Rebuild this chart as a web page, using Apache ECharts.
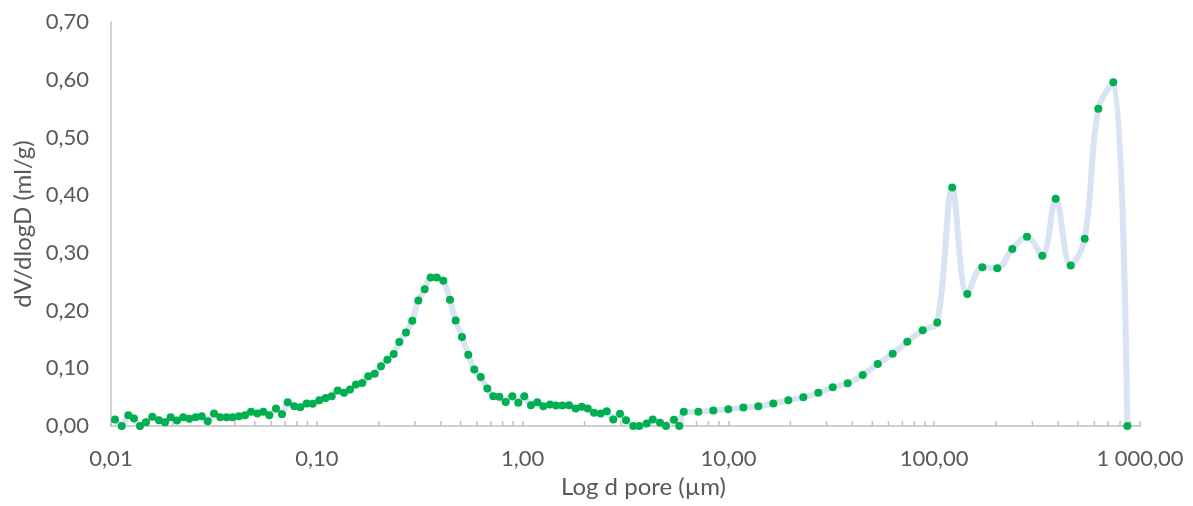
<!DOCTYPE html>
<html>
<head>
<meta charset="utf-8">
<script src="https://cdn.jsdelivr.net/npm/echarts@6/dist/echarts.min.js"></script>
<style>
html,body{margin:0;padding:0;background:#fff;}
#chart{width:1193px;height:506px;}
</style>
</head>
<body>
<div id="chart"></div>
<script>
// Pore diameter (µm)
var poreDiameter = [
  0.01046, 0.01127, 0.01214, 0.01293, 0.01383, 0.01480, 0.01588, 0.01711, 0.01830, 0.01950,
  0.02093, 0.02245, 0.02402, 0.02580, 0.02759, 0.02950, 0.03167, 0.03397, 0.03650, 0.03903,
  0.04188, 0.04478, 0.04789, 0.05139, 0.05495, 0.05877, 0.06334, 0.06774, 0.07221, 0.07774,
  0.08316, 0.08930, 0.09552, 0.1028, 0.1105, 0.1182, 0.1264, 0.1356, 0.1450, 0.1550,
  0.1664, 0.1779, 0.1911, 0.2051, 0.2202, 0.2364, 0.2518, 0.2713, 0.2911, 0.3113,
  0.3344, 0.3576, 0.3825, 0.4118, 0.4437, 0.4730, 0.5075, 0.5446, 0.5824, 0.6256,
  0.6738, 0.7206, 0.7705, 0.8278, 0.8911, 0.9530, 1.019, 1.098, 1.179, 1.261,
  1.359, 1.453, 1.559, 1.681, 1.811, 1.938, 2.072, 2.223, 2.396, 2.563,
  2.759, 2.974, 3.181, 3.451, 3.691, 4.009, 4.288, 4.652, 4.976, 5.441,
  5.773, 6.066, 7.141, 8.446, 9.99, 11.82, 13.98, 16.53, 19.55, 23.12,
  27.35, 32.12, 37.99, 44.95, 53.16, 62.84, 74.00, 87.95, 103.5, 122.4,
  144.8, 171.3, 202.6, 239.6, 282.4, 335.2, 389.4, 460.6, 538.6, 627.1,
  742.0, 867.6
];
// dV/dlogD (ml/g)
var dVdlogD = [
  0.0112, 0.0000, 0.0187, 0.0130, 0.0000, 0.0066, 0.0159, 0.0100, 0.0066, 0.0152,
  0.0095, 0.0152, 0.0124, 0.0152, 0.0169, 0.0083, 0.0216, 0.0152, 0.0152, 0.0152,
  0.0169, 0.0187, 0.0245, 0.0216, 0.0245, 0.0187, 0.0302, 0.0204, 0.0411, 0.0342,
  0.0325, 0.0389, 0.0384, 0.0446, 0.0487, 0.0515, 0.0614, 0.0574, 0.0631, 0.0717,
  0.0747, 0.0861, 0.0907, 0.1034, 0.1149, 0.1248, 0.1455, 0.1621, 0.1823, 0.2174,
  0.2371, 0.2572, 0.2572, 0.2515, 0.2186, 0.1829, 0.1542, 0.1236, 0.0977, 0.0850,
  0.0648, 0.0515, 0.0505, 0.0418, 0.0515, 0.0401, 0.0515, 0.0359, 0.0411, 0.0342,
  0.0372, 0.0354, 0.0354, 0.0359, 0.0302, 0.0332, 0.0302, 0.0228, 0.0216, 0.0256,
  0.0112, 0.0211, 0.0100, 0.0000, 0.0000, 0.0043, 0.0112, 0.0055, 0.0000, 0.0107,
  0.0000, 0.0247, 0.0245, 0.0268, 0.0290, 0.0320, 0.0342, 0.0389, 0.0446, 0.0498,
  0.0574, 0.0671, 0.0740, 0.0885, 0.1075, 0.1253, 0.1460, 0.1659, 0.1794, 0.4134,
  0.2285, 0.2751, 0.2734, 0.3068, 0.3280, 0.2952, 0.3937, 0.2779, 0.3246, 0.5499,
  0.5954, 0.0000
];
// Minor tick positions on the log axis
var minorTickValues = [];
[0.01, 0.1, 1, 10, 100].forEach(function (dec) {
  for (var k = 2; k <= 9; k++) minorTickValues.push(+(dec * k).toPrecision(3));
});

var textColor = '#595959';
var axisColor = '#BFBFBF';
var fontFamily = 'Lato, "Open Sans", sans-serif';

function fmtNum(v, dec) {
  var s = (Math.round(v * 100) / 100).toFixed(dec);
  var parts = s.split('.');
  var ip = parts[0].replace(/\B(?=(\d{3})+(?!\d))/g, ' ');
  return ip + ',' + parts[1];
}

var seriesData = poreDiameter.map(function (d, i) { return [d, dVdlogD[i]]; });

var chart = echarts.init(document.getElementById('chart'));
chart.setOption({
  animation: false,
  backgroundColor: '#ffffff',
  grid: { left: 111, right: 53, top: 22, bottom: 80, containLabel: false },
  xAxis: {
    type: 'log',
    logBase: 10,
    min: 0.01,
    max: 1000,
    splitNumber: 5,
    name: 'Log d pore (µm)',
    nameLocation: 'middle',
    nameGap: 49,
    nameTextStyle: { color: textColor, fontSize: 24, fontFamily: fontFamily, padding: [0, 0, 0, 36] },
    axisLine: { show: true, lineStyle: { color: axisColor, width: 1.5 } },
    axisTick: { show: true, inside: true, length: 5, lineStyle: { color: axisColor, width: 1.5 } },
    minorTick: { show: false },
    splitLine: { show: false },
    axisLabel: {
      color: textColor, fontSize: 22, fontFamily: fontFamily, margin: 22,
      formatter: function (v) { return fmtNum(v, 2); }
    }
  },
  yAxis: {
    type: 'value',
    min: 0,
    max: 0.7,
    interval: 0.1,
    name: 'dV/dlogD (ml/g)',
    nameLocation: 'middle',
    nameGap: 74,
    nameTextStyle: { color: textColor, fontSize: 24, fontFamily: fontFamily },
    axisLine: { show: true, lineStyle: { color: axisColor, width: 1.5 } },
    axisTick: { show: false },
    splitLine: { show: false },
    axisLabel: {
      color: textColor, fontSize: 22, fontFamily: fontFamily, margin: 22,
      formatter: function (v) { return fmtNum(v, 2); }
    }
  },
  series: [
    {
      type: 'custom',
      silent: true,
      z: 1,
      data: minorTickValues,
      renderItem: function (params, api) {
        var p = api.coord([api.value(0), 0]);
        return {
          type: 'line',
          shape: { x1: p[0], y1: p[1], x2: p[0], y2: p[1] - 5 },
          style: { stroke: axisColor, lineWidth: 1.5 }
        };
      },
      encode: { x: 0 }
    },
    {
      type: 'line',
      data: seriesData,
      smooth: 0.35,
      z: 3,
      symbol: 'circle',
      symbolSize: 8,
      showAllSymbol: true,
      itemStyle: { color: '#00B050' },
      lineStyle: { color: '#DAE3F3', width: 6 }
    }
  ]
});
</script>
</body>
</html>
